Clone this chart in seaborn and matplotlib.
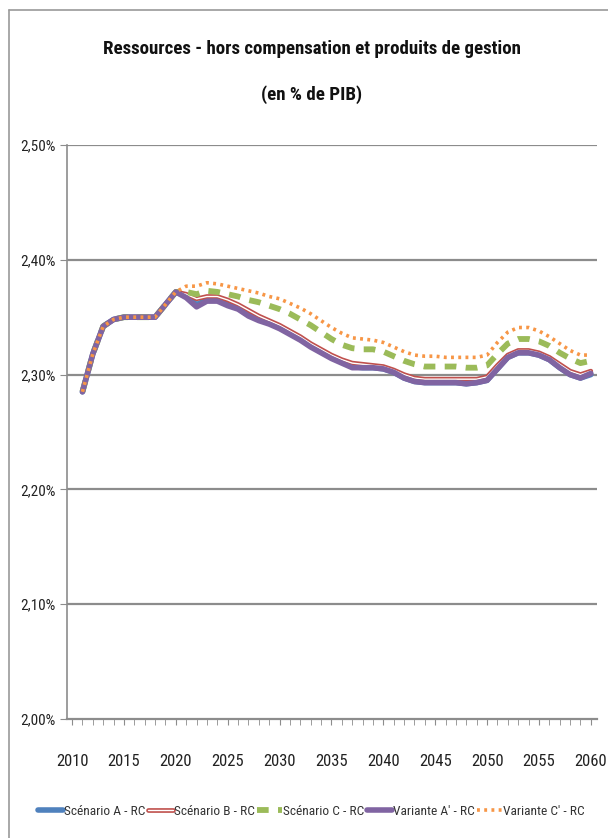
import numpy as np
import pandas as pd
import matplotlib
matplotlib.use("Agg")
import matplotlib.pyplot as plt
import seaborn as sns
from matplotlib.lines import Line2D
from matplotlib.ticker import FuncFormatter, MultipleLocator

years = list(range(2011, 2061))

# common start 2011-2020
common = [2.285, 2.318, 2.342, 2.348, 2.350, 2.350, 2.350, 2.350, 2.361, 2.372]

scen_a = common + [2.368, 2.361, 2.365, 2.365, 2.362, 2.358, 2.353, 2.348, 2.345, 2.341,
                   2.336, 2.331, 2.325, 2.320, 2.315, 2.311, 2.307, 2.306, 2.306, 2.305,
                   2.302, 2.297, 2.294, 2.293, 2.293, 2.293, 2.293, 2.292, 2.293, 2.295,
                   2.305, 2.315, 2.319, 2.319, 2.317, 2.313, 2.306, 2.300, 2.297, 2.300]
scen_b = common + [2.370, 2.366, 2.368, 2.368, 2.365, 2.361, 2.356, 2.351, 2.347, 2.343,
                   2.338, 2.333, 2.327, 2.322, 2.317, 2.313, 2.310, 2.309, 2.308, 2.307,
                   2.304, 2.300, 2.297, 2.296, 2.296, 2.296, 2.296, 2.296, 2.296, 2.298,
                   2.308, 2.317, 2.321, 2.321, 2.319, 2.315, 2.309, 2.303, 2.300, 2.303]
scen_c = common + [2.372, 2.370, 2.373, 2.372, 2.370, 2.368, 2.365, 2.363, 2.360, 2.357,
                   2.353, 2.348, 2.343, 2.337, 2.331, 2.326, 2.323, 2.322, 2.322, 2.320,
                   2.316, 2.312, 2.309, 2.307, 2.307, 2.307, 2.307, 2.306, 2.306, 2.308,
                   2.318, 2.327, 2.331, 2.331, 2.329, 2.325, 2.319, 2.314, 2.310, 2.312]
var_a = common + [2.367, 2.359, 2.364, 2.364, 2.360, 2.357, 2.351, 2.347, 2.344, 2.340,
                  2.335, 2.330, 2.324, 2.319, 2.314, 2.310, 2.306, 2.306, 2.306, 2.305,
                  2.302, 2.297, 2.294, 2.293, 2.293, 2.293, 2.293, 2.292, 2.293, 2.295,
                  2.305, 2.315, 2.319, 2.319, 2.317, 2.313, 2.306, 2.300, 2.297, 2.301]
var_c = common + [2.377, 2.377, 2.380, 2.379, 2.377, 2.375, 2.373, 2.371, 2.368, 2.366,
                  2.362, 2.358, 2.353, 2.347, 2.341, 2.336, 2.332, 2.331, 2.330, 2.328,
                  2.324, 2.320, 2.317, 2.316, 2.316, 2.315, 2.315, 2.315, 2.315, 2.317,
                  2.328, 2.337, 2.341, 2.341, 2.338, 2.333, 2.327, 2.321, 2.317, 2.317]

labels = ["Scénario A - RC", "Scénario B - RC", "Scénario C - RC",
          "Variante A' - RC", "Variante C' - RC"]

sns.set_style("white")
plt.rcParams["font.family"] = ["Roboto Condensed", "Liberation Sans", "DejaVu Sans"]

fig = plt.figure(figsize=(6.08, 8.38), dpi=100)
ax = fig.add_axes([0.110, 0.142, 0.872, 0.685])

grid_col = "#8c8c8c"
for y in [2.1, 2.2, 2.3, 2.4, 2.5]:
    ax.axhline(y, color=grid_col, lw=1.6, zorder=0)

sns.lineplot(x=years, y=scen_a, ax=ax, color="#4F81BD", lw=4.0)
sns.lineplot(x=years, y=scen_b, ax=ax, color="#C0504D", lw=3.4)
sns.lineplot(x=years, y=scen_b, ax=ax, color="white", lw=1.0)
sns.lineplot(x=years, y=scen_c, ax=ax, color="#9BBB59", lw=4.2)
ax.lines[-1].set_dashes([2.0, 1.6])
sns.lineplot(x=years, y=var_a, ax=ax, color="#8064A2", lw=4.0)
sns.lineplot(x=years, y=var_c, ax=ax, color="#F79646", lw=2.6)
ax.lines[-1].set_dashes([0.8, 1.2])

ax.set_xlim(2009.5, 2060.6)
ax.set_ylim(2.0, 2.5)
ax.yaxis.set_major_locator(MultipleLocator(0.1))
ax.yaxis.set_major_formatter(FuncFormatter(lambda v, p: f"{v:.2f}%".replace(".", ",")))
ax.set_xticks(range(2010, 2061, 5))
ax.xaxis.set_minor_locator(MultipleLocator(1))
ax.tick_params(axis="x", which="both", direction="out", length=4, color=grid_col,
               bottom=True, labelsize=12, pad=21, labelcolor="#222222")
ax.tick_params(axis="y", which="major", direction="out", length=5, color=grid_col,
               left=True, labelsize=11, pad=3, labelcolor="#222222")
for s in ["top", "right"]:
    ax.spines[s].set_visible(False)
ax.spines["left"].set_color(grid_col)
ax.spines["bottom"].set_color(grid_col)
ax.spines["left"].set_linewidth(1.2)
ax.spines["bottom"].set_linewidth(1.6)
ax.set_xlabel("")
ax.set_ylabel("")

fig.text(0.513, 0.942, "Ressources - hors compensation et produits de gestion",
         ha="center", va="center", fontsize=13.6, fontweight="bold", color="#111111")
fig.text(0.513, 0.887, "(en % de PIB)", ha="center", va="center",
         fontsize=13.6, fontweight="bold", color="#111111")

handles = [
    Line2D([], [], color="#4F81BD", lw=4.0),
    (Line2D([], [], color="#C0504D", lw=3.4), Line2D([], [], color="white", lw=1.0)),
    Line2D([], [], color="#9BBB59", lw=4.2, dashes=[2.0, 1.6]),
    Line2D([], [], color="#8064A2", lw=4.0),
    Line2D([], [], color="#F79646", lw=2.6, dashes=[0.8, 1.2]),
]
leg = fig.legend(handles, labels, loc="center", bbox_to_anchor=(0.512, 0.032), ncol=5,
                 frameon=False, fontsize=9.6, handlelength=1.9, handletextpad=0.05,
                 columnspacing=0.2)
for t in leg.get_texts():
    t.set_color("#333333")

# chart border (left and top edges visible)
fig.add_artist(Line2D([0.014, 0.014], [0.0, 0.988], transform=fig.transFigure,
                      color="#9a9a9a", lw=1.2))
fig.add_artist(Line2D([0.014, 1.0], [0.988, 0.988], transform=fig.transFigure,
                      color="#9a9a9a", lw=1.2))

fig.savefig("out.png", dpi=100)
